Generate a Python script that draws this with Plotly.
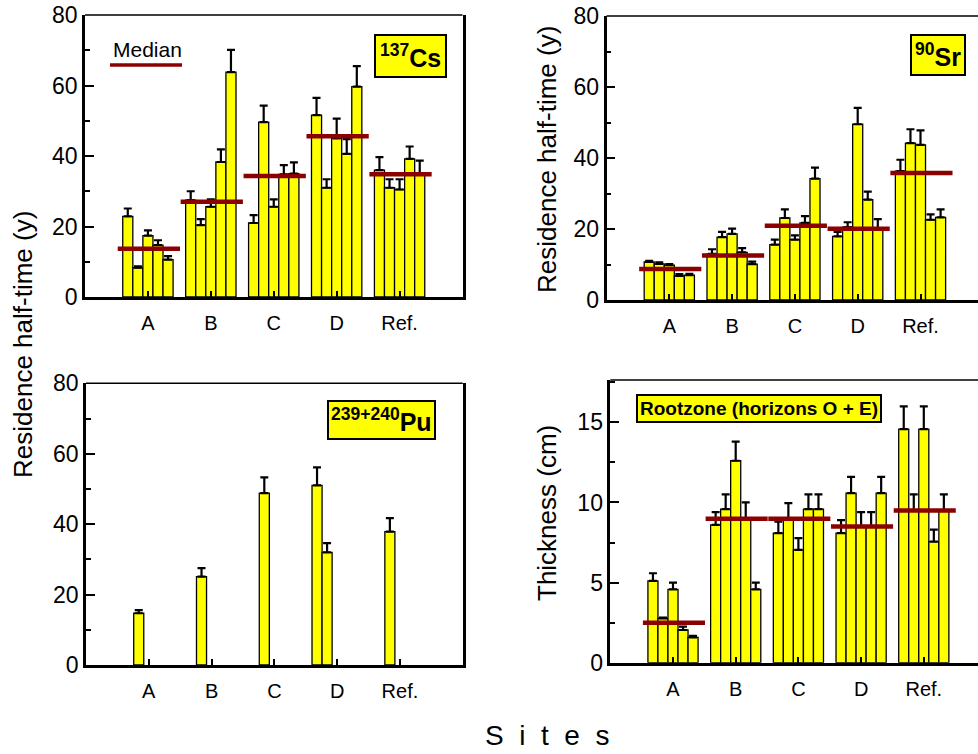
import plotly.graph_objects as go

# ---------------- data ----------------
sites = ["A", "B", "C", "D", "Ref."]

cs_values = [22.9, 8.3, 17.4, 14.7, 10.6,
             27.5, 20.4, 25.6, 38.3, 63.8,
             21.0, 49.6, 25.6, 34.8, 35.0,
             51.6, 31.0, 45.0, 40.6, 59.7,
             36.0, 31.0, 30.5, 39.2, 34.8]
cs_errors = [2.2, 0.4, 1.5, 1.4, 1.0,
             2.5, 1.7, 2.1, 3.6, 6.3,
             2.2, 4.7, 2.1, 2.6, 3.2,
             4.9, 2.4, 5.6, 4.2, 5.8,
             3.7, 2.4, 2.9, 3.5, 3.9]
cs_medians = [13.7, 27.0, 34.3, 45.6, 34.8]

sr_values = [10.7, 10.2, 9.8, 6.8, 7.0,
             13.0, 17.7, 18.6, 13.4, 10.1,
             15.6, 23.1, 17.0, 21.7, 34.2,
             17.9, 20.5, 49.5, 28.3, 20.1,
             36.3, 44.2, 43.7, 22.6, 23.3]
sr_errors = [0.3, 0.4, 0.3, 0.5, 0.4,
             1.3, 1.5, 1.5, 1.2, 0.7,
             1.4, 2.4, 1.2, 1.9, 3.1,
             1.3, 1.4, 4.6, 2.2, 2.7,
             3.2, 3.9, 4.1, 1.5, 2.2]
sr_medians = [8.7, 12.5, 20.9, 20.1, 35.8]

pu_values = [None, 14.7, None, None, None,
             None, 25.1, None, None, None,
             None, 48.8, None, None, None,
             51.0, 32.0, None, None, None,
             None, 37.9, None, None, None]
pu_errors = [0, 0.9, 0, 0, 0,
             0, 2.4, 0, 0, 0,
             0, 4.5, 0, 0, 0,
             5.1, 2.6, 0, 0, 0,
             0, 3.8, 0, 0, 0]

thick_values = [5.1, 2.77, 4.58, 2.04, 1.58,
                8.6, 9.58, 12.6, 9.0, 4.58,
                8.08, 9.0, 7.04, 9.58, 9.58,
                8.08, 10.58, 8.5, 8.5, 10.58,
                14.58, 9.5, 14.58, 7.56, 9.5]
thick_errors = [0.48, 0.05, 0.42, 0.21, 0.09,
                0.8, 0.92, 1.2, 1.0, 0.42,
                0.72, 0.96, 0.73, 0.92, 0.92,
                0.82, 1.02, 0.9, 0.9, 1.02,
                1.42, 1.0, 1.42, 0.74, 1.0]
thick_medians = [2.5, 8.98, 8.98, 8.5, 9.5]

# ---------------- layout helpers ----------------
W, H = 978, 754
FONT = "Liberation Sans, Arial, Helvetica, sans-serif"
YELLOW = "#FFFF00"
MEDIAN_COLOR = "#8B0000"
BAR_W = 0.16
N_PER = 5


def px(xp):
    return xp / W


def py(yp):
    return 1 - yp / H


group_pos = list(range(1, len(sites) + 1))
bar_x = [g + (i - (N_PER - 1) / 2) * BAR_W for g in group_pos for i in range(N_PER)]

panels = [
    dict(v=cs_values, e=cs_errors, m=cs_medians, xd=(85, 462.5), yd=(15, 297),
         xmax=6.0, ymax=80, dtick=20, minor=10, yright=True),
    dict(v=sr_values, e=sr_errors, m=sr_medians, xd=(606.5, 978), yd=(16, 300),
         xmax=371.5 / 62.8, ymax=80, dtick=20, minor=10, yright=False),
    dict(v=pu_values, e=pu_errors, m=None, xd=(86, 462.7), yd=(383.3, 665),
         xmax=6.0, ymax=80, dtick=20, minor=10, yright=True),
    dict(v=thick_values, e=thick_errors, m=thick_medians, xd=(610.3, 978), yd=(380, 662.7),
         xmax=367.7 / 62.7, ymax=17.64, dtick=5, minor=2.5, yright=False),
]

fig = go.Figure()
layout = dict(
    width=W, height=H, margin=dict(l=0, r=0, t=0, b=0, pad=0, autoexpand=False),
    paper_bgcolor="white", plot_bgcolor="white", showlegend=False,
    font=dict(family=FONT, color="black"),
)
shapes = []
annotations = []

for k, p in enumerate(panels, start=1):
    xa = "x" if k == 1 else f"x{k}"
    ya = "y" if k == 1 else f"y{k}"
    xkey = "xaxis" if k == 1 else f"xaxis{k}"
    ykey = "yaxis" if k == 1 else f"yaxis{k}"

    fig.add_trace(go.Bar(
        x=bar_x, y=p["v"], width=BAR_W, xaxis=xa, yaxis=ya,
        marker=dict(color=YELLOW, line=dict(color="black", width=1.3)),
        error_y=dict(type="data", symmetric=False, array=p["e"],
                     arrayminus=[0] * len(p["e"]), color="black",
                     thickness=2.2, width=4),
        hoverinfo="skip",
    ))
    if p["m"] is not None:
        mx, my = [], []
        for g, m in zip(group_pos, p["m"]):
            mx += [g - 0.48, g + 0.51, None]
            my += [m, m, None]
        fig.add_trace(go.Scatter(
            x=mx, y=my, mode="lines", xaxis=xa, yaxis=ya,
            line=dict(color=MEDIAN_COLOR, width=4.5), hoverinfo="skip",
        ))

    layout[xkey] = dict(
        domain=[px(p["xd"][0]), px(p["xd"][1])], anchor=ya,
        range=[0, p["xmax"]], tickvals=group_pos, ticktext=sites,
        ticks="inside", ticklen=6, tickwidth=2, tickcolor="black",
        showline=True, linewidth=3, linecolor="black", mirror=False,
        showgrid=False, zeroline=False, fixedrange=True, automargin=False,
        tickfont=dict(size=20, family=FONT, color="black"),
        ticklabelstandoff=6,
    )
    layout[ykey] = dict(
        domain=[py(p["yd"][1]), py(p["yd"][0])], anchor=xa,
        range=[0, p["ymax"]], dtick=p["dtick"], tick0=0,
        ticks="inside", ticklen=9, tickwidth=2, tickcolor="black",
        minor=dict(ticks="inside", ticklen=5, tickwidth=1.5, tickcolor="black",
                   dtick=p["minor"], tick0=0),
        showline=True, linewidth=2.5, linecolor="black", mirror=p["yright"],
        showgrid=False, zeroline=False, fixedrange=True, automargin=False,
        tickfont=dict(size=23, family=FONT, color="black"),
        ticklabelstandoff=0,
    )
    shapes.append(dict(type="line", xref=f"{xa} domain", yref=f"{ya} domain",
                       x0=0, x1=1, y0=1, y1=1,
                       line=dict(color="black", width=1.6)))

fig.update_layout(**layout)

# Median legend (top-left panel)
annotations.append(dict(text="Median", xref="paper", yref="paper",
                        x=px(111), y=py(50), xanchor="left", yanchor="middle",
                        showarrow=False, font=dict(size=21, family=FONT, color="black")))
shapes.append(dict(type="line", xref="paper", yref="paper",
                   x0=px(110), x1=px(182), y0=py(65), y1=py(65),
                   line=dict(color=MEDIAN_COLOR, width=3.5)))

# Isotope / panel label boxes
box_style = dict(xref="paper", yref="paper", xanchor="center", yanchor="middle",
                 showarrow=False, bgcolor=YELLOW, bordercolor="black", borderwidth=2)
annotations.append(dict(text="<b><sup>137</sup>Cs</b>", x=px(410.5), y=py(56),
                        font=dict(size=25, family=FONT, color="black"),
                        borderpad=4, **box_style))
annotations.append(dict(text="<b><sup>90</sup>Sr</b>", x=px(937.5), y=py(54.5),
                        font=dict(size=25, family=FONT, color="black"),
                        borderpad=3, **box_style))
annotations.append(dict(text="<b><sup>239+240</sup>Pu</b>", x=px(381), y=py(420),
                        font=dict(size=25, family=FONT, color="black"),
                        borderpad=2, **box_style))
annotations.append(dict(text="<b>Rootzone (horizons O + E)</b>", x=px(758.5), y=py(408.5),
                        font=dict(size=19, family=FONT, color="black"),
                        borderpad=2, **box_style))

# Axis titles
title_font = dict(size=26, family=FONT, color="black")
annotations.append(dict(text="Residence half-time (y)", xref="paper", yref="paper",
                        x=px(23), y=py(345), textangle=-90, showarrow=False,
                        xanchor="center", yanchor="middle", font=title_font))
annotations.append(dict(text="Residence half-time (y)", xref="paper", yref="paper",
                        x=px(547), y=py(160), textangle=-90, showarrow=False,
                        xanchor="center", yanchor="middle", font=title_font))
annotations.append(dict(text="Thickness (cm)", xref="paper", yref="paper",
                        x=px(547), y=py(513), textangle=-90, showarrow=False,
                        xanchor="center", yanchor="middle", font=title_font))
annotations.append(dict(text="S\u00a0 i\u00a0 t\u00a0 e\u00a0 s", xref="paper", yref="paper",
                        x=px(547), y=py(735), showarrow=False,
                        xanchor="center", yanchor="middle",
                        font=dict(size=28, family=FONT, color="black")))

fig.update_layout(shapes=shapes, annotations=annotations)
fig.write_html("out.html")
